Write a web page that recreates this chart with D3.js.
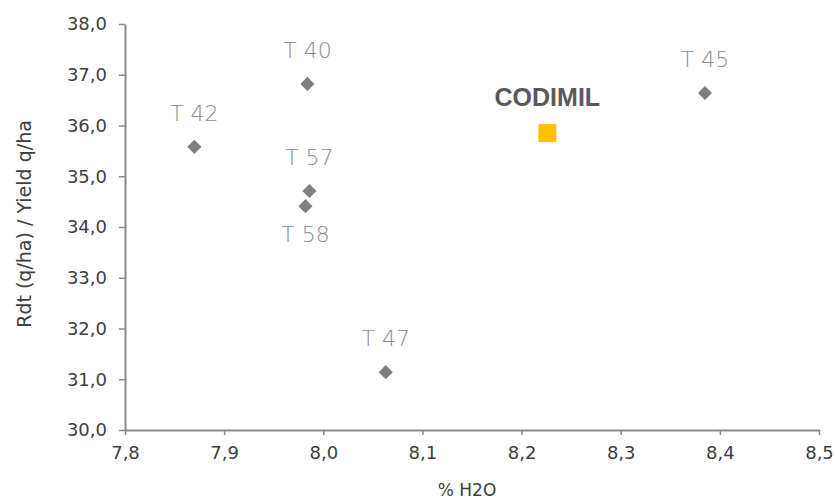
<!DOCTYPE html>
<html>
<head>
<meta charset="utf-8">
<script src="https://cdn.jsdelivr.net/npm/d3@7"></script>
<style>
  body { margin: 0; background: #fff; }
  text { font-family: "DejaVu Sans", sans-serif; }
</style>
</head>
<body>
<svg id="chart" width="835" height="499"></svg>
<script>
// trial points
const names = ["T 40", "T 42", "T 57", "T 58", "T 47", "T 45"];
const h2o = [7.984, 7.870, 7.986, 7.982, 8.063, 8.385];
const yieldQ = [36.82, 35.58, 34.71, 34.41, 31.14, 36.64];
const labelBelow = [false, false, false, true, false, false];

const refName = "CODIMIL";
const refH2o = 8.226;
const refYield = 35.85;

const xTicks = [7.8, 7.9, 8.0, 8.1, 8.2, 8.3, 8.4, 8.5];
const yTicks = [30, 31, 32, 33, 34, 35, 36, 37, 38];

const svg = d3.select("#chart");
const x = d3.scaleLinear().domain([7.8, 8.5]).range([125, 819]);
const y = d3.scaleLinear().domain([30, 38]).range([430, 24]);
const fmt = v => d3.format(".1f")(v).replace(".", ",");
const axisColor = "#898989";

const gx = svg.append("g").attr("transform", `translate(0,${y(30)})`)
    .call(d3.axisBottom(x).tickValues(xTicks).tickFormat(fmt).tickSizeInner(5).tickSizeOuter(0).tickPadding(11));
const gy = svg.append("g").attr("transform", `translate(${x(7.8)},0)`)
    .call(d3.axisLeft(y).tickValues(yTicks).tickFormat(fmt).tickSizeInner(6).tickSizeOuter(0).tickPadding(12));

[gx, gy].forEach(g => {
    g.attr("font-family", null).attr("font-size", null);
    g.select(".domain").attr("stroke", axisColor).attr("stroke-width", 2);
    g.selectAll(".tick line").attr("stroke", axisColor).attr("stroke-width", 1.5);
    g.selectAll(".tick text").attr("fill", "#404040")
        .style("font-size", "18px").style("font-family", "'DejaVu Sans', sans-serif");
});

svg.append("text")
    .attr("x", 467).attr("y", 496)
    .attr("text-anchor", "middle")
    .attr("fill", "#404040").style("font-size", "17px")
    .text("% H2O");

svg.append("text")
    .attr("transform", `translate(31,224) rotate(-90)`)
    .attr("text-anchor", "middle")
    .attr("fill", "#404040").style("font-size", "19px")
    .text("Rdt (q/ha) / Yield q/ha");

const diamond = d3.symbol().type(d3.symbolSquare).size(100);
const pts = names.map((n, i) => ({ n, x: h2o[i], y: yieldQ[i], below: labelBelow[i] }));

svg.append("g").selectAll("path").data(pts).join("path")
    .attr("d", diamond)
    .attr("transform", d => `translate(${x(d.x)},${y(d.y)}) rotate(45)`)
    .attr("fill", "#7f7f7f");

svg.append("g").selectAll("text").data(pts).join("text")
    .attr("x", d => x(d.x))
    .attr("y", d => y(d.y) + (d.below ? 36 : -26))
    .attr("text-anchor", "middle")
    .attr("fill", "#8c8c8c")
    .style("font-size", "22px").style("font-weight", 200)
    .text(d => d.n);

svg.append("rect")
    .attr("x", x(refH2o) - 9).attr("y", y(refYield) - 9)
    .attr("width", 18).attr("height", 18)
    .attr("fill", "#ffc000");

svg.append("text")
    .attr("x", x(refH2o)).attr("y", y(refYield) - 27)
    .attr("text-anchor", "middle")
    .attr("fill", "#595959")
    .style("font-size", "25px").style("font-weight", "bold")
    .style("font-family", "'Liberation Sans', sans-serif")
    .text(refName);
</script>
</body>
</html>
